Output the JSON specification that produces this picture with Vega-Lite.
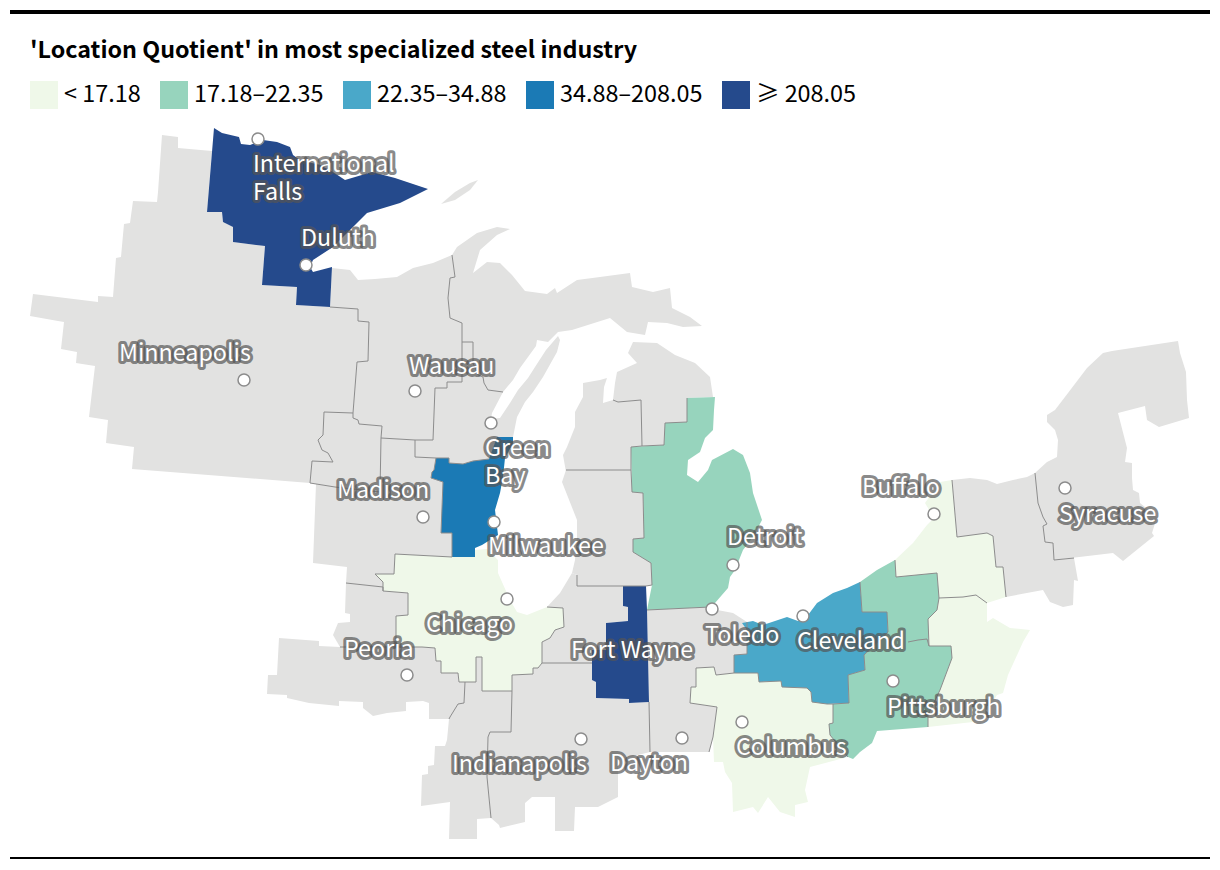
{"$schema":"https://vega.github.io/schema/vega-lite/v6.json","width":1220,"height":870,"padding":0,"autosize":"none","background":"#ffffff",
"title":{"text":"'Location Quotient' in most specialized steel industry","anchor":"start","frame":"group","orient":"top","offset":-81,"dx":30,"baseline":"alphabetic","font":"Noto Sans CJK SC","fontWeight":700,"fontSize":23.3,"color":"#000000"},
"config":{"view":{"stroke":null},"font":"Noto Sans CJK SC"},
"projection":{"type":"identity","scale":1,"translate":[0,0]},
"datasets":{
"regions":[
{"region":"Minneapolis","category":"Other","type":"Feature","geometry":{"type":"Polygon","coordinates":[[[162,135],[178,137],[178,148],[212,151],[207,212],[222,212],[223,222],[233,227],[233,242],[265,246],[262,285],[297,287],[296,305],[330,307],[358,309],[358,321],[369,322],[368,361],[357,362],[353,413],[324,412],[323,435],[318,440],[322,450],[328,453],[333,462],[312,461],[310,483],[132,469],[134,447],[106,443],[108,420],[89,417],[95,366],[76,363],[77,352],[61,349],[64,322],[58,321],[30,316],[33,294],[98,302],[98,296],[113,297],[116,258],[121,257],[124,224],[130,223],[133,201],[157,202],[158,192],[162,135]]]}},
{"region":"Wausau","category":"Other","type":"Feature","geometry":{"type":"Polygon","coordinates":[[[330,307],[332,268],[350,270],[358,280],[375,279],[397,277],[413,268],[433,263],[452,255],[455,277],[450,278],[448,298],[450,318],[462,323],[462,342],[462,382],[447,382],[447,388],[435,388],[433,440],[415,440],[381,438],[382,426],[359,424],[358,420],[353,418],[353,413],[357,362],[368,361],[369,322],[358,321],[358,309],[330,307]]]}},
{"region":"Isle Royale","category":"Other","type":"Feature","geometry":{"type":"Polygon","coordinates":[[[441,204],[455,192],[470,183],[478,180],[470,190],[455,200],[441,204]]]}},
{"region":"Upper Peninsula","category":"Other","type":"Feature","geometry":{"type":"Polygon","coordinates":[[[452,255],[457,247],[477,233],[497,227],[510,229],[497,235],[480,250],[473,273],[487,262],[500,263],[512,275],[525,291],[547,294],[555,288],[557,293],[577,280],[600,277],[630,273],[632,287],[653,292],[670,288],[672,308],[690,317],[702,326],[683,327],[667,323],[648,322],[645,335],[627,332],[610,318],[572,330],[558,332],[548,342],[537,340],[536,346],[520,368],[513,380],[503,392],[488,390],[484,383],[483,377],[478,375],[473,363],[473,342],[462,342],[462,323],[450,318],[448,298],[450,278],[455,277],[452,255]]]}},
{"region":"Green Bay","category":"Other","type":"Feature","geometry":{"type":"Polygon","coordinates":[[[462,342],[473,342],[473,363],[478,375],[483,377],[484,383],[488,390],[503,392],[492,413],[491,419],[500,418],[510,403],[518,390],[528,378],[535,367],[546,350],[558,336],[560,340],[557,352],[543,377],[533,392],[525,402],[517,417],[515,427],[513,437],[497,437],[489,459],[473,461],[463,464],[449,463],[449,458],[436,458],[415,457],[415,440],[433,440],[435,388],[447,388],[447,382],[462,382],[462,342]]]}},
{"region":"La Crosse","category":"Other","type":"Feature","geometry":{"type":"Polygon","coordinates":[[[324,412],[353,413],[353,418],[358,420],[359,424],[382,426],[381,438],[380,492],[335,487],[310,483],[312,461],[333,462],[328,453],[322,450],[318,440],[323,435],[324,412]]]}},
{"region":"Madison","category":"Other","type":"Feature","geometry":{"type":"Polygon","coordinates":[[[316,484],[335,487],[380,492],[381,438],[415,440],[415,457],[436,458],[434,470],[432,472],[431,478],[443,482],[441,533],[452,533],[452,557],[395,554],[394,574],[375,574],[383,582],[383,587],[346,583],[347,567],[313,563],[316,484]]]}},
{"region":"Rock Island","category":"Other","type":"Feature","geometry":{"type":"Polygon","coordinates":[[[346,583],[383,587],[383,591],[408,593],[408,615],[396,616],[396,637],[396,647],[340,647],[333,635],[338,623],[350,622],[350,614],[345,613],[346,583]]]}},
{"region":"Peoria","category":"Other","type":"Feature","geometry":{"type":"Polygon","coordinates":[[[279,638],[319,641],[319,646],[340,647],[396,647],[422,647],[435,648],[436,661],[441,661],[441,673],[458,673],[459,682],[465,682],[464,703],[458,704],[450,717],[449,719],[429,719],[429,703],[423,701],[406,702],[406,711],[387,713],[373,716],[368,712],[363,708],[363,702],[339,701],[339,706],[309,703],[287,698],[287,695],[267,694],[268,675],[277,675],[279,638]]]}},
{"region":"Champaign","category":"Other","type":"Feature","geometry":{"type":"Polygon","coordinates":[[[465,682],[476,682],[476,657],[482,657],[482,691],[512,691],[511,732],[490,732],[488,737],[487,777],[491,818],[477,819],[477,839],[449,839],[450,802],[421,806],[422,775],[428,774],[428,766],[434,765],[435,746],[445,746],[447,740],[449,719],[450,717],[458,704],[464,703],[465,682]]]}},
{"region":"Indianapolis","category":"Other","type":"Feature","geometry":{"type":"Polygon","coordinates":[[[512,675],[533,674],[533,668],[538,668],[542,663],[592,663],[592,680],[596,682],[596,698],[629,699],[629,703],[649,702],[650,752],[618,760],[618,797],[598,807],[575,807],[574,831],[555,831],[555,797],[532,797],[525,803],[525,822],[500,828],[499,825],[491,818],[487,777],[488,737],[490,732],[511,732],[512,691],[512,675]]]}},
{"region":"South Bend","category":"Other","type":"Feature","geometry":{"type":"Polygon","coordinates":[[[547,607],[560,593],[572,573],[577,575],[577,586],[623,586],[623,606],[628,607],[628,621],[606,623],[606,650],[592,650],[592,663],[542,663],[542,642],[550,638],[555,630],[564,627],[563,608],[547,607]]]}},
{"region":"Dayton","category":"Other","type":"Feature","geometry":{"type":"Polygon","coordinates":[[[647,610],[710,607],[712,609],[733,613],[747,622],[747,654],[734,655],[734,673],[716,675],[714,667],[696,668],[696,687],[691,687],[690,703],[717,707],[713,737],[709,752],[650,752],[649,702],[647,610]]]}},
{"region":"Grand Rapids","category":"Other","type":"Feature","geometry":{"type":"Polygon","coordinates":[[[566,470],[631,470],[632,492],[643,493],[644,538],[633,539],[633,552],[651,563],[652,585],[646,586],[623,586],[577,586],[577,575],[572,573],[575,560],[577,537],[577,520],[562,482],[566,470]]]}},
{"region":"Muskegon","category":"Other","type":"Feature","geometry":{"type":"Polygon","coordinates":[[[566,472],[563,455],[567,447],[575,427],[575,412],[583,397],[583,383],[600,380],[607,378],[604,387],[603,403],[613,400],[618,402],[641,400],[642,446],[631,447],[631,470],[566,472]]]}},
{"region":"Northern Michigan","category":"Other","type":"Feature","geometry":{"type":"Polygon","coordinates":[[[613,400],[615,383],[617,372],[637,363],[628,353],[633,342],[657,343],[675,355],[695,363],[710,377],[713,397],[687,398],[687,422],[665,423],[664,445],[642,446],[641,400],[618,402],[613,400]]]}},
{"region":"Rochester","category":"Other","type":"Feature","geometry":{"type":"Polygon","coordinates":[[[952,480],[970,478],[987,480],[997,484],[1013,480],[1027,477],[1035,473],[1038,503],[1043,517],[1047,524],[1043,526],[1045,542],[1053,543],[1054,560],[1074,558],[1078,581],[1074,580],[1073,605],[1063,607],[1050,602],[1043,590],[1006,597],[1003,567],[996,567],[993,536],[987,533],[957,537],[952,480]]]}},
{"region":"Syracuse","category":"Other","type":"Feature","geometry":{"type":"Polygon","coordinates":[[[1035,473],[1047,462],[1057,457],[1058,440],[1055,430],[1047,422],[1047,415],[1055,410],[1068,393],[1087,368],[1103,353],[1112,351],[1178,341],[1180,353],[1186,372],[1187,400],[1189,418],[1159,427],[1147,420],[1145,406],[1118,413],[1127,448],[1125,462],[1132,463],[1132,478],[1133,490],[1139,493],[1140,503],[1157,517],[1152,533],[1154,536],[1123,561],[1113,553],[1054,560],[1053,543],[1045,542],[1043,526],[1047,524],[1043,517],[1038,503],[1035,473]]]}},
{"region":"Chicago","category":"< 17.18","type":"Feature","geometry":{"type":"Polygon","coordinates":[[[395,554],[452,557],[473,557],[475,550],[487,549],[498,560],[498,573],[510,600],[517,612],[527,615],[547,607],[563,608],[564,627],[555,630],[550,638],[542,642],[542,663],[538,668],[533,668],[533,674],[512,675],[512,691],[482,691],[482,657],[476,657],[476,682],[459,682],[458,673],[441,673],[441,661],[436,661],[435,648],[422,647],[396,647],[396,616],[408,615],[408,593],[383,591],[383,582],[375,574],[394,574],[395,554]]]}},
{"region":"Columbus","category":"< 17.18","type":"Feature","geometry":{"type":"Polygon","coordinates":[[[696,668],[714,667],[716,675],[734,673],[758,673],[759,682],[781,681],[782,687],[807,688],[811,692],[812,702],[827,704],[833,704],[833,723],[829,724],[830,735],[848,757],[810,767],[805,790],[808,802],[795,805],[795,817],[780,812],[768,797],[758,813],[753,807],[733,812],[732,783],[725,772],[723,762],[714,762],[713,737],[717,707],[690,703],[691,687],[696,687],[696,668]]]}},
{"region":"Buffalo","category":"< 17.18","type":"Feature","geometry":{"type":"Polygon","coordinates":[[[895,560],[913,543],[927,525],[932,520],[928,508],[925,503],[940,482],[952,480],[957,537],[987,533],[993,536],[996,567],[1003,567],[1006,597],[987,603],[976,595],[963,597],[938,598],[937,573],[896,577],[895,560]]]}},
{"region":"Johnstown","category":"< 17.18","type":"Feature","geometry":{"type":"Polygon","coordinates":[[[939,598],[963,597],[976,595],[987,603],[987,622],[993,618],[1010,628],[1030,630],[1023,642],[1008,675],[1003,693],[997,695],[985,715],[973,722],[928,727],[928,715],[940,690],[952,658],[951,646],[929,646],[928,619],[937,610],[939,598]]]}},
{"region":"Erie and Pittsburgh","category":"17.18–22.35","type":"Feature","geometry":{"type":"Polygon","coordinates":[[[860,582],[877,570],[895,560],[896,577],[937,573],[939,598],[937,610],[928,619],[929,646],[951,646],[952,658],[940,690],[928,715],[928,727],[877,731],[872,743],[860,752],[853,759],[848,757],[830,735],[829,724],[833,723],[833,704],[849,703],[848,675],[865,670],[864,655],[888,632],[887,612],[862,612],[860,582]]]}},
{"region":"Lower Michigan","category":"17.18–22.35","type":"Feature","geometry":{"type":"Polygon","coordinates":[[[687,398],[715,397],[714,410],[713,430],[705,438],[700,452],[688,460],[687,475],[698,482],[708,470],[712,460],[733,449],[743,455],[750,473],[753,493],[762,520],[753,537],[743,550],[735,570],[730,577],[728,588],[715,603],[710,607],[647,610],[652,585],[651,563],[633,552],[633,539],[644,538],[643,493],[632,492],[631,447],[664,445],[665,423],[687,422],[687,398]]]}},
{"region":"Cleveland","category":"22.35–34.88","type":"Feature","geometry":{"type":"Polygon","coordinates":[[[860,582],[862,612],[887,612],[888,632],[864,655],[865,670],[848,675],[849,703],[827,704],[812,702],[811,692],[807,688],[782,687],[781,681],[759,682],[758,673],[734,673],[734,655],[747,654],[747,630],[742,623],[753,621],[763,625],[787,617],[798,621],[808,615],[817,603],[833,593],[847,588],[860,582]]]}},
{"region":"Milwaukee","category":"34.88–208.05","type":"Feature","geometry":{"type":"Polygon","coordinates":[[[497,437],[513,437],[513,443],[505,458],[503,477],[500,493],[495,510],[498,535],[482,545],[475,548],[475,557],[452,557],[452,533],[441,533],[443,482],[431,478],[432,472],[434,470],[436,458],[449,458],[449,463],[463,464],[473,461],[489,459],[497,437]]]}},
{"region":"Duluth","category":"≥ 208.05","type":"Feature","geometry":{"type":"Polygon","coordinates":[[[214,128],[222,133],[239,137],[241,144],[250,145],[263,140],[277,142],[290,147],[293,155],[300,160],[320,165],[333,172],[345,180],[372,172],[395,178],[428,189],[400,203],[367,213],[350,230],[333,247],[313,260],[310,267],[313,272],[332,267],[330,307],[296,305],[297,287],[262,285],[265,246],[233,242],[233,227],[223,222],[222,212],[207,212],[214,128]]]}},
{"region":"Fort Wayne","category":"≥ 208.05","type":"Feature","geometry":{"type":"Polygon","coordinates":[[[623,586],[646,586],[647,610],[649,702],[629,703],[629,699],[596,698],[596,682],[592,680],[592,650],[606,650],[606,623],[628,621],[628,607],[623,606],[623,586]]]}}
],
"borders":[
{"border":"a","type":"Feature","geometry":{"type":"LineString","coordinates":[[330,307],[358,309],[358,321],[369,322],[368,361],[357,362],[353,413],[353,418],[358,420],[359,424],[382,426],[381,438],[380,492]]}},
{"border":"b","type":"Feature","geometry":{"type":"LineString","coordinates":[[353,413],[324,412],[323,435],[318,440],[322,450],[328,453],[333,462],[312,461],[310,483],[335,487],[380,492]]}},
{"border":"c","type":"Feature","geometry":{"type":"LineString","coordinates":[[381,438],[415,440],[433,440],[435,388],[447,388],[447,382],[462,382],[462,323],[450,318],[448,298],[450,278],[455,277],[452,255]]}},
{"border":"d","type":"Feature","geometry":{"type":"LineString","coordinates":[[415,440],[415,457],[436,458],[449,458],[449,463],[463,464],[473,461],[489,459]]}},
{"border":"e","type":"Feature","geometry":{"type":"LineString","coordinates":[[462,342],[473,342],[473,363],[478,375],[483,377],[484,383],[488,390],[503,392]]}},
{"border":"f","type":"Feature","geometry":{"type":"LineString","coordinates":[[436,458],[434,470],[432,472],[431,478],[443,482],[441,533],[452,533],[452,557]]}},
{"border":"g","type":"Feature","geometry":{"type":"LineString","coordinates":[[547,607],[563,608],[564,627],[555,630],[550,638],[542,642],[542,663],[538,668],[533,668],[533,674],[512,675],[512,691],[482,691],[482,657],[476,657],[476,682],[459,682],[458,673],[441,673],[441,661],[436,661],[435,648],[422,647],[396,647],[396,616],[408,615],[408,593],[383,591],[383,582],[375,574],[394,574],[395,554],[452,557]]}},
{"border":"h","type":"Feature","geometry":{"type":"LineString","coordinates":[[340,647],[396,647]]}},
{"border":"i","type":"Feature","geometry":{"type":"LineString","coordinates":[[346,583],[383,587],[383,591]]}},
{"border":"j","type":"Feature","geometry":{"type":"LineString","coordinates":[[465,682],[464,703],[458,704],[450,717],[449,719]]}},
{"border":"k","type":"Feature","geometry":{"type":"LineString","coordinates":[[512,691],[511,732],[490,732],[488,737],[487,777],[491,818]]}},
{"border":"l","type":"Feature","geometry":{"type":"LineString","coordinates":[[542,663],[592,663]]}},
{"border":"m","type":"Feature","geometry":{"type":"LineString","coordinates":[[649,702],[650,752]]}},
{"border":"n","type":"Feature","geometry":{"type":"LineString","coordinates":[[566,470],[631,470]]}},
{"border":"o","type":"Feature","geometry":{"type":"LineString","coordinates":[[613,400],[618,402],[641,400],[642,446],[631,447],[631,470],[632,492],[643,493],[644,538],[633,539],[633,552],[651,563],[652,585],[646,586],[577,586],[577,575]]}},
{"border":"p","type":"Feature","geometry":{"type":"LineString","coordinates":[[642,446],[664,445],[665,423],[687,422],[687,398]]}},
{"border":"q","type":"Feature","geometry":{"type":"LineString","coordinates":[[647,610],[710,607]]}},
{"border":"r","type":"Feature","geometry":{"type":"LineString","coordinates":[[747,622],[747,654],[734,655],[734,673],[716,675],[714,667],[696,668],[696,687],[691,687],[690,703],[717,707],[713,737],[709,752]]}},
{"border":"s","type":"Feature","geometry":{"type":"LineString","coordinates":[[860,582],[862,612],[887,612],[888,632],[864,655],[865,670],[848,675],[849,703],[833,704],[827,704],[812,702],[811,692],[807,688],[782,687],[781,681],[759,682],[758,673],[734,673]]}},
{"border":"t","type":"Feature","geometry":{"type":"LineString","coordinates":[[833,704],[833,723],[829,724],[830,735],[848,757]]}},
{"border":"u","type":"Feature","geometry":{"type":"LineString","coordinates":[[908,642],[918,640],[927,639],[929,646]]}},
{"border":"v","type":"Feature","geometry":{"type":"LineString","coordinates":[[895,560],[896,577],[937,573],[939,598],[937,610],[928,619],[929,646],[951,646],[952,658],[940,690],[928,715],[928,727]]}},
{"border":"w","type":"Feature","geometry":{"type":"LineString","coordinates":[[939,598],[963,597],[976,595],[987,603]]}},
{"border":"x","type":"Feature","geometry":{"type":"LineString","coordinates":[[952,480],[957,537],[987,533],[993,536],[996,567],[1003,567],[1006,597]]}},
{"border":"y","type":"Feature","geometry":{"type":"LineString","coordinates":[[1035,473],[1038,503],[1043,517],[1047,524],[1043,526],[1045,542],[1053,543],[1054,560],[1074,558]]}}
],
"frame":[
{"rule":"top","weight":4,"type":"Feature","geometry":{"type":"LineString","coordinates":[[10,12],[1210,12]]}},
{"rule":"bottom","weight":2,"type":"Feature","geometry":{"type":"LineString","coordinates":[[10,858],[1210,858]]}}
],
"cities":[
{"city":"International\nFalls","lon":258,"lat":139,"labelLon":253,"labelLat":172},
{"city":"Duluth","lon":306,"lat":265,"labelLon":301,"labelLat":246},
{"city":"Minneapolis","lon":244,"lat":380,"labelLon":119,"labelLat":361},
{"city":"Wausau","lon":415,"lat":391,"labelLon":409,"labelLat":374},
{"city":"Green\nBay","lon":491,"lat":423,"labelLon":485,"labelLat":456},
{"city":"Madison","lon":423,"lat":517,"labelLon":337,"labelLat":498},
{"city":"Milwaukee","lon":494,"lat":522,"labelLon":488,"labelLat":554},
{"city":"Chicago","lon":507,"lat":599,"labelLon":426,"labelLat":632},
{"city":"Peoria","lon":407,"lat":675,"labelLon":344,"labelLat":657},
{"city":"Fort Wayne","lon":null,"lat":null,"labelLon":571,"labelLat":658},
{"city":"Indianapolis","lon":581,"lat":739,"labelLon":452,"labelLat":772},
{"city":"Dayton","lon":682,"lat":738,"labelLon":610,"labelLat":771},
{"city":"Toledo","lon":712,"lat":609,"labelLon":705,"labelLat":643},
{"city":"Detroit","lon":733,"lat":565,"labelLon":727,"labelLat":545},
{"city":"Cleveland","lon":803,"lat":616,"labelLon":797,"labelLat":649},
{"city":"Columbus","lon":742,"lat":722,"labelLon":736,"labelLat":755},
{"city":"Pittsburgh","lon":893,"lat":681,"labelLon":887,"labelLat":715},
{"city":"Buffalo","lon":934,"lat":514,"labelLon":862,"labelLat":495},
{"city":"Syracuse","lon":1065,"lat":488,"labelLon":1059,"labelLat":522}
]},
"layer":[
{"data":{"name":"regions"},"mark":{"type":"geoshape","strokeWidth":0},
"encoding":{"color":{"field":"category","type":"nominal","sort":null,
"scale":{"domain":["Other","< 17.18","17.18–22.35","22.35–34.88","34.88–208.05","≥ 208.05"],"range":["#e2e2e1","#eff8e9","#97d4bd","#4aa8c9","#1b7ab5","#254a8c"]},
"legend":{"values":["< 17.18","17.18–22.35","22.35–34.88","34.88–208.05","≥ 208.05"],"title":null,"orient":"none","legendX":30,"legendY":81,"direction":"horizontal","columns":5,"symbolType":"square","symbolSize":784,"symbolStrokeWidth":0,"symbolOpacity":1,"labelFont":"Noto Sans CJK SC","labelFontSize":23.4,"labelColor":"#000000","labelOffset":6,"columnPadding":19,"padding":0,"labelLimit":300,
"encoding":{"labels":{"enter":{"font":{"signal":"indexof(datum.label, '≥') === 0 ? 'Noto Sans' : 'Noto Sans CJK SC'"},"fontSize":{"signal":"indexof(datum.label, '≥') === 0 ? 21 : 23.4"}}}}}}}},
{"data":{"name":"borders"},"mark":{"type":"geoshape","filled":false,"stroke":"#8c8c8c","strokeWidth":1},"encoding":{}},
{"data":{"name":"frame"},"mark":{"type":"geoshape","filled":false,"stroke":"#000000"},"encoding":{"strokeWidth":{"field":"weight","type":"quantitative","scale":null,"legend":null}}},
{"data":{"name":"cities"},"transform":[{"filter":"isValid(datum.lon)"}],"mark":{"type":"point","filled":true,"fill":"#ffffff","stroke":"#8c8c8c","strokeWidth":1.5,"size":144,"opacity":1},"encoding":{"longitude":{"field":"lon","type":"quantitative"},"latitude":{"field":"lat","type":"quantitative"}}},
{"data":{"name":"cities"},"mark":{"type":"text","align":"left","baseline":"alphabetic","font":"Noto Sans CJK SC","fontSize":23.3,"lineBreak":"\n","lineHeight":28,"stroke":"#555555","strokeWidth":6,"strokeJoin":"round","strokeOpacity":0.7,"fill":"#555555","fillOpacity":0.7},"encoding":{"longitude":{"field":"labelLon","type":"quantitative"},"latitude":{"field":"labelLat","type":"quantitative"},"text":{"field":"city","type":"nominal"}}},
{"data":{"name":"cities"},"mark":{"type":"text","align":"left","baseline":"alphabetic","font":"Noto Sans CJK SC","fontSize":23.3,"lineBreak":"\n","lineHeight":28,"fill":"#ffffff"},"encoding":{"longitude":{"field":"labelLon","type":"quantitative"},"latitude":{"field":"labelLat","type":"quantitative"},"text":{"field":"city","type":"nominal"}}}
]}
